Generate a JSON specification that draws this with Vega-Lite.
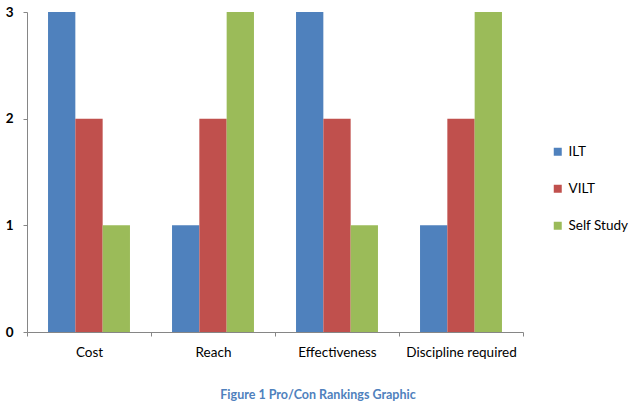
{
  "$schema": "https://vega.github.io/schema/vega-lite/v6.json",
  "autosize": {"type": "none"},
  "padding": {"left": 27, "top": 12, "right": 119, "bottom": 77},
  "width": 496,
  "height": 320,
  "background": "white",
  "config": {
    "view": {"stroke": null},
    "font": "Lato"
  },
  "title": {
    "text": "Figure 1   Pro/Con Rankings Graphic",
    "orient": "bottom",
    "anchor": "middle",
    "dx": 43,
    "offset": 30,
    "font": "Lato",
    "fontSize": 12.5,
    "fontWeight": "bold",
    "color": "#4F81BD"
  },
  "data": {
    "values": [
      {"category": "Cost", "series": "ILT", "rank": 3},
      {"category": "Cost", "series": "VILT", "rank": 2},
      {"category": "Cost", "series": "Self Study", "rank": 1},
      {"category": "Reach", "series": "ILT", "rank": 1},
      {"category": "Reach", "series": "VILT", "rank": 2},
      {"category": "Reach", "series": "Self Study", "rank": 3},
      {"category": "Effectiveness", "series": "ILT", "rank": 3},
      {"category": "Effectiveness", "series": "VILT", "rank": 2},
      {"category": "Effectiveness", "series": "Self Study", "rank": 1},
      {"category": "Discipline required", "series": "ILT", "rank": 1},
      {"category": "Discipline required", "series": "VILT", "rank": 2},
      {"category": "Discipline required", "series": "Self Study", "rank": 3}
    ]
  },
  "mark": {"type": "bar"},
  "encoding": {
    "x": {
      "field": "category",
      "type": "nominal",
      "sort": ["Cost", "Reach", "Effectiveness", "Discipline required"],
      "scale": {"paddingInner": 0, "paddingOuter": 0},
      "axis": {
        "title": null,
        "labelAngle": 0,
        "tickBand": "extent",
        "domainColor": "#868686",
        "tickColor": "#868686",
        "tickSize": 4,
        "labelFont": "Lato",
        "labelFontSize": 13.5,
        "labelColor": "black",
        "labelPadding": 9
      }
    },
    "xOffset": {
      "field": "series",
      "type": "nominal",
      "sort": ["ILT", "VILT", "Self Study"],
      "scale": {"paddingInner": 0, "paddingOuter": 0.77}
    },
    "y": {
      "field": "rank",
      "type": "quantitative",
      "scale": {"domain": [0, 3], "nice": false},
      "axis": {
        "title": null,
        "values": [0, 1, 2, 3],
        "format": "d",
        "grid": false,
        "domainColor": "#868686",
        "tickColor": "#868686",
        "tickSize": 4,
        "labelFont": "Lato",
        "labelFontSize": 13.5,
        "labelFontWeight": "bold",
        "labelColor": "black",
        "labelPadding": 10
      }
    },
    "color": {
      "field": "series",
      "type": "nominal",
      "sort": ["ILT", "VILT", "Self Study"],
      "scale": {"domain": ["ILT", "VILT", "Self Study"], "range": ["#4F81BD", "#C0504D", "#9BBB59"]},
      "legend": {
        "title": null,
        "orient": "none",
        "legendX": 524,
        "legendY": 133,
        "padding": 0,
        "symbolType": "square",
        "symbolSize": 64,
        "symbolStrokeWidth": 0,
        "labelFont": "Lato",
        "labelFontSize": 13.5,
        "labelColor": "black",
        "labelOffset": 4,
        "rowPadding": 22
      }
    }
  }
}
